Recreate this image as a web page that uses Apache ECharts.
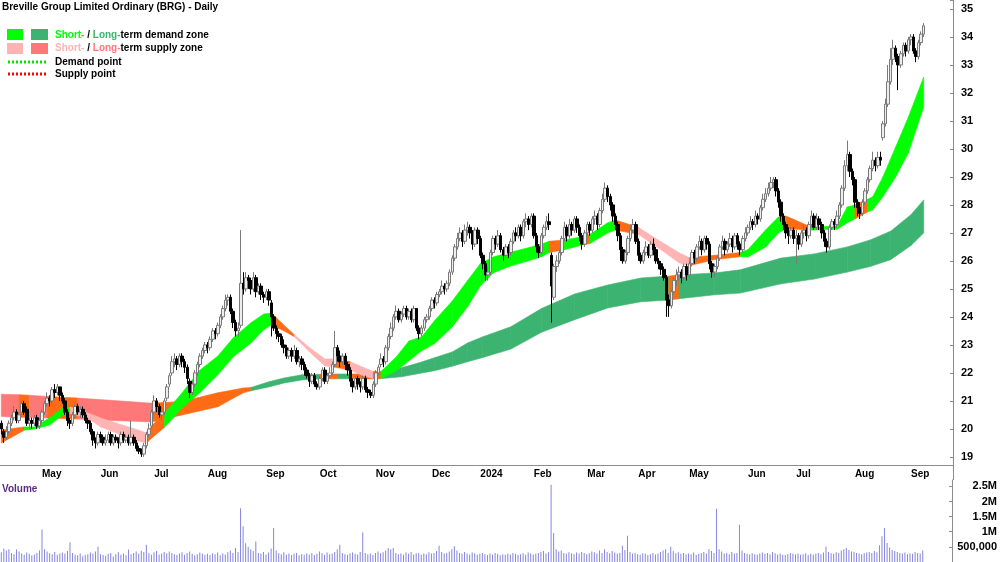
<!DOCTYPE html>
<html>
<head>
<meta charset="utf-8">
<title>Breville Group Limited Ordinary (BRG) - Daily</title>
<script src="https://cdn.jsdelivr.net/npm/echarts@6/dist/echarts.min.js"></script>
<style>
  html, body { margin: 0; padding: 0; background: #ffffff; }
  #chart { width: 1000px; height: 562px; }
</style>
</head>
<body>
<div id="chart"></div>
<script>
// trading calendar (ASX): weekdays from firstDay, minus exchange holidays
const firstDay = "2023-04-04";
const dayCount = 374;
const holidays = [
  "2023-04-07", "2023-04-10", "2023-04-25", "2023-06-12", "2023-12-25", "2023-12-26",
  "2024-01-01", "2024-01-26", "2024-03-29", "2024-04-01", "2024-04-25", "2024-06-10",
];
const monthNames = ["Jan", "Feb", "Mar", "Apr", "May", "Jun", "Jul", "Aug", "Sep", "Oct", "Nov", "Dec"];

// daily bars: [open, close, low, high]
const prices = [
  [20.2,20.0,19.8,20.3],[19.9,19.7,19.5,20.0],[19.7,19.9,19.6,20.1],[19.9,20.2,19.8,20.3],
  [20.2,20.4,20.1,20.5],[20.4,20.6,20.3,20.8],[20.6,20.3,20.2,20.7],[20.3,20.5,20.2,20.6],
  [20.6,20.9,20.5,21.0],[20.9,20.6,20.5,21.0],[20.7,20.2,20.1,20.8],[20.2,20.3,20.0,20.4],
  [20.3,20.2,20.0,20.4],[20.2,20.4,20.1,20.5],[20.4,20.1,20.0,20.5],[20.1,20.3,20.0,20.4],
  [20.3,20.6,20.2,20.7],[20.6,20.9,20.5,21.0],[20.9,21.1,20.8,21.3],[21.1,21.0,20.8,21.2],
  [21.0,21.4,20.9,21.5],[21.4,21.3,21.1,21.6],[21.3,21.5,21.2,21.6],[21.5,21.2,21.0,21.5],
  [21.2,21.0,20.9,21.3],[21.0,20.6,20.5,21.1],[20.6,20.3,20.1,20.7],
  [20.3,20.2,20.0,20.4],[20.2,20.5,20.1,20.6],[20.5,20.8,20.4,20.9],[20.8,20.6,20.5,20.9],
  [20.6,20.7,20.4,20.8],[20.7,20.5,20.4,20.8],[20.5,20.3,20.2,20.6],[20.3,20.2,20.0,20.4],
  [20.2,19.9,19.8,20.3],[19.9,19.6,19.4,20.0],[19.6,19.5,19.3,19.7],[19.5,19.8,19.4,19.9],
  [19.8,19.7,19.5,19.9],[19.7,19.5,19.4,19.8],[19.5,19.6,19.4,19.8],[19.6,19.8,19.5,19.9],
  [19.8,19.5,19.4,19.9],[19.5,19.7,19.4,19.8],[19.7,19.6,19.5,19.8],[19.6,19.5,19.3,19.7],
  [19.5,19.8,19.4,19.9],[19.8,19.6,19.5,19.9],[19.6,19.7,19.5,19.8],[19.7,19.5,19.4,19.8],
  [19.5,19.7,19.4,20.3],[19.7,19.5,19.4,19.8],[19.5,19.3,19.2,19.6],[19.3,19.2,19.1,19.4],
  [19.2,19.1,19.0,19.3],[19.1,19.4,19.0,19.5],[19.4,19.8,19.3,19.9],[19.8,20.0,19.7,20.2],
  [20.1,20.6,20.0,20.7],[20.6,21.0,20.5,21.2],[21.0,20.8,20.6,21.1],[20.8,20.5,20.4,20.9],
  [20.5,20.6,20.3,20.8],[20.6,21.0,20.5,21.1],[21.1,21.5,21.0,21.6],[21.6,21.9,21.5,22.0],
  [22.0,22.4,21.9,22.6],[22.4,22.5,22.2,22.7],[22.5,22.3,22.1,22.6],[22.3,22.6,22.2,22.7],
  [22.6,22.4,22.2,22.7],[22.4,22.2,22.0,22.5],[22.2,21.8,21.6,22.3],
  [21.7,21.3,21.1,21.8],[21.3,21.6,21.2,21.7],[21.6,22.0,21.5,22.1],[22.0,22.3,21.9,22.4],
  [22.3,22.6,22.2,22.7],[22.6,22.8,22.5,22.9],[22.8,23.0,22.7,23.1],[23.0,22.9,22.7,23.1],
  [22.9,23.2,22.8,23.3],[23.2,23.5,23.1,23.6],[23.5,23.4,23.2,23.6],[23.4,23.7,23.3,23.8],
  [23.7,24.0,23.6,24.1],[24.0,24.3,23.9,24.4],[24.3,24.6,24.2,24.8],[24.6,24.7,24.4,24.8],
  [24.7,24.2,24.1,24.8],[24.2,23.8,23.6,24.3],[23.8,23.5,23.3,23.9],[23.5,23.6,23.3,23.8],
  [23.7,25.2,23.6,27.1],[25.2,25.0,24.8,25.6],[25.0,25.4,24.9,25.6],[25.4,25.3,25.0,25.5],
  [25.3,25.0,24.8,25.4],[25.0,25.4,24.9,25.6],[25.4,24.9,24.7,25.5],[24.9,25.1,24.8,25.2],
  [25.1,24.8,24.6,25.2],[24.8,24.7,24.5,24.9],[24.7,24.9,24.6,25.0],[24.9,24.6,24.4,25.0],
  [24.5,24.0,23.3,24.6],[24.0,23.6,23.5,24.1],[23.6,23.4,23.2,23.7],[23.4,23.3,23.1,23.5],
  [23.3,23.0,22.9,23.4],[23.0,22.9,22.7,23.2],[22.9,22.6,22.5,23.0],[22.6,22.8,22.5,22.9],
  [22.8,22.6,22.4,22.9],[22.6,22.8,22.5,23.0],[22.8,22.4,22.3,22.9],[22.4,22.5,22.2,22.6],
  [22.5,22.3,22.1,22.6],[22.3,22.1,21.9,22.4],[22.1,21.9,21.8,22.2],
  [21.9,21.7,21.5,22.0],[21.7,21.9,21.6,22.0],[21.9,21.6,21.5,22.0],[21.6,21.5,21.4,21.7],
  [21.5,21.8,21.4,21.9],[21.8,22.1,21.7,22.2],[22.1,21.7,21.6,22.2],[21.7,21.9,21.6,22.0],
  [21.9,22.0,21.8,22.2],[22.0,22.3,21.9,22.4],[22.3,22.9,22.2,23.5],[22.9,22.6,22.4,23.0],
  [22.6,22.4,22.2,22.8],[22.4,22.6,22.3,22.7],[22.6,22.3,22.1,22.7],[22.3,22.1,21.9,22.4],
  [22.1,21.7,21.5,22.2],[21.7,21.5,21.3,21.8],[21.5,21.8,21.4,21.9],[21.8,21.6,21.4,21.9],
  [21.6,21.5,21.3,21.7],[21.5,21.8,21.4,21.9],[21.8,21.4,21.3,21.9],[21.4,21.3,21.1,21.5],
  [21.3,21.2,21.1,21.4],[21.2,21.6,21.1,21.7],[21.6,22.0,21.5,22.1],[22.0,22.2,21.9,22.3],
  [22.3,22.5,22.2,22.7],[22.5,22.4,22.2,22.6],[22.4,22.9,22.3,23.0],[22.9,23.3,22.8,23.4],
  [23.3,23.6,23.2,23.8],[23.6,24.0,23.5,24.1],[24.0,24.2,23.9,24.4],[24.2,23.9,23.8,24.3],
  [23.9,24.1,23.8,24.2],[24.1,24.3,24.0,24.4],[24.3,24.0,23.9,24.4],[24.0,24.2,23.9,24.3],
  [24.2,23.9,23.8,24.3],[23.9,24.3,23.8,24.4],[24.3,23.6,23.5,24.3],[23.6,23.4,23.2,23.7],
  [23.4,23.6,23.3,23.7],[23.6,23.9,23.5,24.0],[23.9,24.0,23.8,24.1],
  [24.0,24.3,23.9,24.4],[24.3,24.6,24.2,24.7],[24.6,24.5,24.3,24.7],[24.5,24.8,24.4,24.9],
  [24.8,24.9,24.7,25.0],[24.9,25.1,24.8,25.3],[25.1,25.0,24.8,25.2],[25.0,25.2,24.9,25.3],
  [25.2,25.6,25.1,25.7],[25.6,26.1,25.5,26.2],[26.1,26.5,26.0,26.6],[26.5,26.8,26.4,27.0],
  [26.8,27.0,26.7,27.2],[27.0,26.7,26.5,27.1],[26.7,27.1,26.6,27.3],[27.1,27.2,26.9,27.4],
  [27.2,27.0,26.8,27.3],[27.0,26.6,26.4,27.1],[26.6,27.1,26.5,27.2],[27.1,26.8,26.6,27.2],
  [26.8,26.2,26.1,26.9],[26.2,25.9,25.7,26.3],[25.9,25.5,25.3,26.0],[25.5,25.6,25.3,25.8],
  [25.6,26.3,25.5,26.4],[26.3,26.8,26.2,26.9],[26.8,26.6,26.4,26.9],[26.6,26.9,26.5,27.1],
  [26.9,26.4,26.3,27.0],[26.4,26.2,26.0,26.5],[26.2,26.5,26.1,26.6],[26.5,26.3,26.1,26.6],
  [26.3,26.7,26.2,26.8],[26.7,27.0,26.6,27.1],[27.0,26.9,26.7,27.2],[26.9,27.2,26.8,27.3],
  [27.2,26.9,26.7,27.3],[26.9,27.4,26.8,27.5],[27.4,27.5,27.2,27.7],[27.5,27.3,27.1,27.6],
  [27.3,27.6,27.2,27.7],[27.6,26.9,26.8,27.7],[26.9,26.5,26.3,27.0],[26.5,26.3,26.1,26.6],
  [26.3,26.9,26.2,27.0],[26.9,27.2,26.8,27.3],[27.2,27.4,27.1,27.6],
  [27.4,27.3,27.1,27.7],[26.2,25.1,23.8,26.3],[24.7,25.8,24.6,25.9],[25.8,26.0,25.6,26.2],
  [26.0,26.3,25.9,26.4],[26.3,26.8,26.2,26.9],[26.8,27.2,26.7,27.4],[27.2,26.9,26.7,27.3],
  [26.9,27.3,26.8,27.5],[27.3,27.1,26.9,27.4],[27.1,27.5,27.0,27.6],[27.5,27.2,27.0,27.6],
  [27.2,26.9,26.7,27.3],[26.9,26.6,26.4,27.0],[26.6,27.0,26.5,27.1],[27.0,27.3,26.9,27.4],
  [27.3,27.1,26.9,27.4],[27.1,27.5,27.0,27.6],[27.5,27.6,27.3,27.8],[27.6,27.3,27.1,27.7],
  [27.3,27.8,27.2,27.9],[27.8,28.2,27.7,28.4],[28.2,28.6,28.1,28.8],[28.6,28.3,28.1,28.7],
  [28.3,28.0,27.8,28.4],[28.0,27.6,27.4,28.1],[27.6,27.3,27.1,27.7],[27.3,26.9,26.7,27.4],
  [26.9,26.4,26.0,27.0],[26.4,26.0,25.9,26.5],[26.0,26.3,25.9,26.4],[26.3,26.8,26.2,26.9],
  [26.8,27.1,26.7,27.3],[27.1,27.3,27.0,27.5],[27.3,26.7,26.6,27.4],[26.7,26.2,26.0,26.8],
  [26.2,26.0,25.9,26.3],[26.0,26.3,25.9,26.4],[26.3,26.5,26.2,26.7],[26.5,26.2,26.1,26.6],
  [26.2,26.6,26.1,26.7],[26.6,26.4,26.2,26.8],[26.4,26.0,25.9,26.5],[26.0,25.9,25.7,26.1],
  [25.9,25.7,25.5,26.0],[25.7,25.4,25.3,25.8],[25.4,24.6,24.0,25.5],
  [24.6,24.4,24.0,24.8],[24.4,24.9,24.3,25.0],[24.9,25.3,24.8,25.4],[25.3,25.5,25.1,25.7],
  [25.5,25.6,25.3,25.8],[25.6,25.4,25.2,25.7],[25.4,25.8,25.3,25.9],[25.8,25.5,25.3,25.9],
  [25.5,25.9,25.4,26.0],[25.9,26.3,25.8,26.4],[26.3,26.1,25.9,26.4],[26.1,26.5,26.0,26.6],
  [26.5,26.7,26.4,26.9],[26.7,26.4,26.2,26.8],[26.4,26.8,26.3,26.9],[26.8,26.6,26.4,26.9],
  [26.6,25.9,25.7,26.7],[25.9,25.6,25.4,26.0],[25.6,25.8,25.4,25.9],[25.8,26.1,25.7,26.2],
  [26.1,26.5,26.0,26.6],[26.5,26.7,26.4,26.9],[26.7,26.4,26.2,26.8],[26.4,26.6,26.3,26.7],
  [26.6,26.8,26.5,27.0],[26.8,26.5,26.3,26.9],[26.5,26.9,26.4,27.0],[26.9,26.6,26.4,27.0],
  [26.6,26.4,26.2,26.7],[26.4,26.8,26.3,26.9],[26.8,27.0,26.7,27.2],[27.0,27.2,26.9,27.3],
  [27.2,27.4,27.1,27.6],[27.4,27.3,27.1,27.5],[27.3,27.6,27.2,27.8],[27.6,27.5,27.3,27.7],
  [27.5,27.9,27.4,28.0],[27.9,28.2,27.8,28.4],[28.2,28.4,28.1,28.6],[28.4,28.6,28.3,28.8],
  [28.6,28.8,28.5,29.0],[28.8,28.9,28.6,29.0],[28.9,28.5,28.3,29.0],[28.5,28.1,27.9,28.6],
  [28.1,27.6,27.4,28.2],[27.6,27.3,27.1,27.7],[27.3,27.0,26.8,27.4],
  [27.0,26.9,26.6,27.2],[26.9,27.1,26.8,27.2],[27.1,26.8,26.6,27.2],[26.8,26.9,25.9,27.1],
  [26.9,26.6,26.4,27.0],[26.6,27.0,26.5,27.1],[27.0,27.1,26.8,27.3],[27.1,26.9,26.7,27.2],
  [26.9,27.3,26.8,27.4],[27.3,27.6,27.2,27.8],[27.6,27.2,27.1,27.7],[27.2,27.5,27.1,27.7],
  [27.5,27.3,27.1,27.6],[27.3,27.0,26.8,27.4],[27.0,26.7,26.5,27.1],[26.7,26.5,26.3,26.8],
  [26.5,27.2,26.4,27.3],[27.2,27.4,27.1,27.5],[27.4,27.3,27.1,27.5],[27.3,27.6,27.2,27.8],
  [27.6,28.0,27.5,28.1],[28.0,28.6,27.9,28.7],[28.6,29.4,28.5,29.6],[29.4,29.8,29.2,30.3],
  [29.8,29.2,29.0,29.9],[29.2,28.9,28.7,29.3],[28.9,28.1,27.9,29.0],[28.1,27.9,27.6,28.2],
  [27.9,27.7,27.5,28.1],[27.7,28.1,27.6,28.2],[28.1,28.5,28.0,28.6],[28.5,28.9,28.4,29.0],
  [28.9,29.3,28.8,29.4],[29.3,29.6,29.2,29.9],[29.6,29.4,29.2,29.7],[29.4,29.7,29.3,29.9],
  [29.7,29.6,29.4,29.9],[30.4,30.9,30.3,31.0],[30.9,31.6,30.8,31.8],[31.6,32.4,31.5,33.0],
  [32.4,33.2,32.3,33.6],[33.2,33.6,33.0,33.9],[33.6,33.3,33.1,33.7],[33.3,33.0,32.1,33.4],
  [33.0,33.4,32.9,33.5],[33.4,33.7,33.3,33.8],[33.7,33.5,33.3,33.8],[33.5,33.9,33.4,34.0],
  [33.9,34.0,33.7,34.1],[34.0,33.5,33.4,34.1],[33.5,33.3,33.1,33.6],[33.3,33.8,33.2,33.9],
  [33.8,34.1,33.7,34.2],[34.1,34.4,34.0,34.5],
];

// daily volume, thousands of shares
const volumeK = [
  320, 450, 380, 420, 300, 260, 410, 350, 280, 240,
  310, 270, 220, 250, 300, 380, 1070, 420, 350, 290,
  260, 330, 240, 280, 310, 270, 360, 650, 300, 250,
  220, 280, 190, 240, 260, 310, 280, 350, 500, 260,
  230, 210, 270, 300, 180, 260, 320, 240, 280, 220,
  410, 260, 300, 350, 270, 380, 330, 570, 290, 240,
  310, 360, 250, 280, 330, 290, 350, 300, 260, 230,
  280, 320, 240, 300, 350, 270, 220, 260, 310, 280,
  240, 270, 230, 290, 260, 310, 220, 280, 250, 320,
  380, 300, 460, 330, 1780, 1180, 620, 500, 420, 360,
  680, 300, 280, 330, 250, 310, 450, 1120, 380, 290,
  260, 320, 240, 280, 230, 270, 300, 220, 260, 240,
  280, 250, 300, 230, 270, 350, 290, 240, 310, 260,
  280, 330, 420, 570, 300, 260, 240, 290, 310, 270,
  250, 330, 980, 300, 260, 280, 230, 300, 350, 290,
  320, 380, 460, 420, 460, 300, 260, 280, 240, 310,
  270, 330, 250, 290, 300, 240, 280, 260, 320, 280,
  300, 360, 540, 330, 280, 300, 350, 420, 520, 380,
  300, 270, 330, 280, 250, 310, 290, 240, 270, 300,
  260, 230, 280, 250, 300, 270, 220, 260, 240, 280,
  250, 300, 270, 230, 260, 290, 240, 310, 280, 250,
  270, 300, 330, 360, 280, 320, 2550, 960, 420, 350,
  380, 300, 270, 320, 290, 260, 310, 280, 330, 300,
  260, 290, 350, 320, 280, 380, 300, 420, 330, 290,
  360, 310, 280, 300, 540, 400, 870, 330, 280, 300,
  260, 240, 290, 270, 230, 260, 300, 250, 280, 330,
  380, 420, 300, 500, 360, 290, 320, 270, 300, 250,
  280, 260, 310, 240, 270, 300, 330, 280, 420, 360,
  300, 1760, 420, 350, 280, 300, 260, 330, 280, 300,
  1230, 380, 300, 270, 250, 290, 260, 240, 280, 310,
  270, 300, 260, 330, 290, 250, 280, 240, 230, 260,
  300, 270, 250, 280, 240, 260, 290, 230, 270, 250,
  280, 300, 260, 310, 500, 330, 290, 270, 320, 300,
  380, 420, 460, 400, 350, 330, 300, 280, 260, 290,
  310, 330, 300, 360, 320, 550, 850, 1120, 630, 480,
  400, 360, 330, 300, 280, 310, 260, 290, 270, 330,
  300, 280, 380,
];

// long-term zone: sample day, upper edge, lower edge, state of the following stretch
// states: d = demand, s = supply, n = neutral (orange)
const ltDay  = [0, 7, 11, 18, 30, 43, 59, 71, 85, 95, 98, 105, 111, 118, 125, 132, 137, 147, 157, 164,
                170, 177, 183, 189, 200, 212, 225, 238, 251, 262, 266, 280, 290, 306, 319, 332, 341, 349, 357, 362];
const ltHigh = [21.24, 21.22, 21.2, 21.16, 21.1, 21.02, 20.92, 20.98, 21.29, 21.46, 21.48, 21.68, 21.82, 21.93, 21.95, 21.96, 21.96, 21.97, 22.18, 22.36,
                22.54, 22.75, 23.07, 23.29, 23.65, 24.3, 24.82, 25.14, 25.39, 25.46, 25.5, 25.57, 25.68, 26.1, 26.25, 26.5, 26.75, 27.06, 27.65, 28.18];
const ltLow  = [20.44, 20.42, 20.41, 20.39, 20.35, 20.3, 20.25, 20.5, 20.79, 21.29, 21.36, 21.5, 21.64, 21.75, 21.78, 21.79, 21.79, 21.78, 21.86, 21.98,
                22.08, 22.24, 22.4, 22.55, 22.85, 23.45, 23.9, 24.32, 24.54, 24.6, 24.65, 24.79, 24.85, 25.18, 25.35, 25.6, 25.8, 26.04, 26.55, 27.0];
const ltState = ["s", "n", "s", "n", "s", "s", "n", "n", "n", "n", "d", "d", "d", "d", "n", "d", "n", "d", "d", "d",
                 "d", "d", "d", "d", "d", "d", "d", "d", "d", "n", "d", "d", "d", "d", "d", "d", "d", "d", "d", "d"];

// short-term zone, same layout
const stDay  = [0, 9, 13, 19, 24, 27, 34, 39, 45, 51, 57, 60, 64, 71, 78, 85, 91, 98, 103, 106,
                111, 115, 121, 127, 131, 137, 142, 146, 149, 155, 160, 165, 170, 177, 183, 188, 193, 199, 206, 212,
                215, 221, 228, 231, 238, 241, 250, 259, 266, 270, 280, 290, 293, 300, 305, 308, 318, 328, 332, 335,
                340, 342, 346, 351, 356, 362];
const stHigh = [19.96, 20.07, 20.07, 20.4, 20.75, 20.78, 20.57, 20.39, 20.21, 20.04, 19.86, 20.2, 20.55, 21.29, 22.1, 22.6, 23.25, 23.79, 24.1, 24.14,
                23.7, 23.36, 22.9, 22.5, 22.5, 22.4, 22.2, 22.05, 22.05, 22.57, 23.14, 23.29, 23.86, 24.57, 25.3, 25.9, 26.14, 26.29, 26.45, 26.6,
                26.7, 26.75, 26.86, 26.95, 27.36, 27.46, 27.2, 26.68, 26.29, 26.12, 26.2, 26.3, 26.4, 27.11, 27.57, 27.6, 27.2, 27.25, 27.93, 28.0,
                28.2, 28.29, 29.0, 30.07, 31.14, 32.57];
const stLow  = [19.5, 19.95, 20.0, 20.14, 20.5, 20.55, 20.39, 20.07, 19.86, 19.61, 19.5, 19.75, 20.05, 20.75, 21.3, 21.93, 22.57, 23.07, 23.54, 23.71,
                23.5, 23.29, 22.75, 22.25, 22.2, 22.1, 21.9, 21.8, 21.8, 22.07, 22.43, 22.79, 23.04, 23.64, 24.36, 25.1, 25.57, 25.79, 25.98, 26.15,
                26.3, 26.4, 26.57, 26.62, 27.0, 27.1, 26.95, 26.39, 25.93, 25.83, 26.05, 26.15, 26.14, 26.5, 27.0, 27.15, 27.1, 27.13, 27.36, 27.5,
                27.75, 27.82, 28.29, 29.0, 29.86, 31.5];
const stState = ["n", "D", "D", "D", "D", "S", "S", "S", "S", "S", "n", "n", "D", "D", "D", "D", "D", "D", "D", "n",
                 "n", "S", "S", "S", "n", "S", "S", "n", "D", "D", "D", "D", "D", "D", "D", "D", "D", "D", "D", "D",
                 "n", "D", "n", "D", "D", "n", "S", "S", "S", "n", "n", "D", "D", "D", "D", "n", "D", "D", "D", "n",
                 "D", "D", "D", "D", "D", "D"];

const zoneColors = {
  D: "#00ff00", // short-term demand
  d: "#3cb371", // long-term demand
  S: "#ffb4b4", // short-term supply
  s: "#ff7878", // long-term supply
  n: "#ff6a14",
};

const fontFamily = '"Liberation Sans", Arial, sans-serif';

const buildDates = () => {
  const out = [];
  const d = new Date(firstDay + "T00:00:00Z");
  while (out.length < dayCount) {
    const iso = d.toISOString().slice(0, 10);
    const wd = d.getUTCDay();
    if (wd !== 0 && wd !== 6 && holidays.indexOf(iso) < 0) out.push(iso);
    d.setUTCDate(d.getUTCDate() + 1);
  }
  return out;
};
const dates = buildDates();
const isMonthStart = (i) => i > 0 && dates[i].slice(5, 7) !== dates[i - 1].slice(5, 7);

const bandSegments = (day, hi, lo) => {
  const segs = [];
  for (let k = 0; k < day.length - 1; k++) {
    segs.push([day[k], hi[k], lo[k], day[k + 1], hi[k + 1], lo[k + 1]]);
  }
  return segs;
};

const bandRenderer = (states) => (params, api) => {
  const a = api.coord([api.value(0), api.value(1)]);
  const b = api.coord([api.value(3), api.value(4)]);
  const c = api.coord([api.value(3), api.value(5)]);
  const d = api.coord([api.value(0), api.value(2)]);
  const col = zoneColors[states[params.dataIndex]];
  return {
    type: "polygon",
    shape: { points: [a, b, c, d] },
    style: { fill: col, stroke: col, lineWidth: 0.6 },
  };
};

const chart = echarts.init(document.getElementById("chart"));

const legendText = (y, shortCol, longCol, tail) => ({
  type: "text",
  left: 55,
  top: y,
  style: {
    text: "{a|Short-}{k| / }{b|Long-}{k|" + tail + "}",
    rich: {
      a: { fill: shortCol, font: "bold 10px " + fontFamily },
      b: { fill: longCol, font: "bold 10px " + fontFamily },
      k: { fill: "#000", font: "bold 10px " + fontFamily },
    },
  },
});

const option = {
  animation: false,
  backgroundColor: "#ffffff",
  grid: [
    { left: 0, right: 47, top: 0, height: 465 },
    { left: 0, right: 47, top: 480, height: 84 },
  ],
  xAxis: [
    {
      type: "category",
      gridIndex: 0,
      data: dates,
      boundaryGap: true,
      axisLine: { lineStyle: { color: "#8c8c8c" } },
      axisTick: { interval: (i) => isMonthStart(i), length: 5, lineStyle: { color: "#8c8c8c" } },
      axisLabel: {
        interval: (i) => isMonthStart(i),
        formatter: (v) => {
          const m = +v.slice(5, 7);
          return m === 1 ? v.slice(0, 4) : monthNames[m - 1];
        },
        align: "left",
        margin: 4,
        color: "#000",
        fontWeight: "bold",
        fontSize: 10,
        fontFamily: fontFamily,
      },
      splitLine: { show: false },
    },
    {
      type: "category",
      gridIndex: 1,
      data: dates,
      position: "top",
      axisLine: { lineStyle: { color: "#8c8c8c" } },
      axisTick: { show: false },
      axisLabel: { show: false },
      splitLine: { show: false },
    },
  ],
  yAxis: [
    {
      type: "value",
      gridIndex: 0,
      position: "right",
      min: 18.71,
      max: 35.32,
      splitNumber: 16,
      minInterval: 1,
      maxInterval: 1,
      axisLine: { show: true, lineStyle: { color: "#8c8c8c" } },
      axisTick: { show: true, inside: true, length: 3, lineStyle: { color: "#8c8c8c" } },
      axisLabel: {
        margin: 8,
        formatter: (v) => (Math.abs(v - Math.round(v)) < 1e-6 ? String(Math.round(v)) : ""),
        color: "#000",
        fontWeight: "bold",
        fontSize: 11,
        fontFamily: fontFamily,
      },
      splitLine: { show: false },
    },
    {
      type: "value",
      gridIndex: 1,
      position: "right",
      min: 0,
      max: 2710,
      interval: 500,
      axisLine: { show: true, lineStyle: { color: "#8c8c8c" } },
      axisTick: { show: true, inside: true, length: 3, lineStyle: { color: "#8c8c8c" } },
      axisLabel: {
        align: "right",
        margin: 45,
        formatter: (v) => {
          if (v === 0) return "";
          if (v === 500) return "500,000";
          return v / 1000 + "M";
        },
        color: "#000",
        fontWeight: "bold",
        fontSize: 11,
        fontFamily: fontFamily,
      },
      splitLine: { show: false },
    },
  ],
  graphic: [
    { type: "text", left: 2, top: 2, style: { text: "Breville Group Limited Ordinary (BRG) - Daily", fill: "#000", font: "bold 10px " + fontFamily } },
    { type: "rect", left: 7, top: 29, shape: { width: 16, height: 11 }, style: { fill: zoneColors.D } },
    { type: "rect", left: 31, top: 29, shape: { width: 17, height: 11 }, style: { fill: zoneColors.d } },
    { type: "rect", left: 7, top: 43, shape: { width: 16, height: 11 }, style: { fill: zoneColors.S } },
    { type: "rect", left: 31, top: 43, shape: { width: 17, height: 11 }, style: { fill: zoneColors.s } },
    legendText(30, zoneColors.D, zoneColors.d, "term demand zone"),
    legendText(43, zoneColors.S, zoneColors.s, "term supply zone"),
    { type: "line", shape: { x1: 8, y1: 62, x2: 47, y2: 62 }, style: { stroke: "#00e600", lineWidth: 3, lineDash: [2, 2] } },
    { type: "line", shape: { x1: 8, y1: 74, x2: 47, y2: 74 }, style: { stroke: "#ff0000", lineWidth: 3, lineDash: [2, 2] } },
    { type: "text", left: 55, top: 57, style: { text: "Demand point", fill: "#000", font: "bold 10px " + fontFamily } },
    { type: "text", left: 55, top: 69, style: { text: "Supply point", fill: "#000", font: "bold 10px " + fontFamily } },
    { type: "text", left: 2, top: 484, style: { text: "Volume", fill: "#5b2a86", font: "bold 10px " + fontFamily } },
    // price axis line carried through the date strip
    { type: "line", shape: { x1: 953.5, y1: 465, x2: 953.5, y2: 480 }, style: { stroke: "#8c8c8c", lineWidth: 1 } },
  ],
  series: [
    {
      name: "Long-term zone",
      type: "custom",
      xAxisIndex: 0,
      yAxisIndex: 0,
      silent: true,
      z: 1,
      encode: { x: [0, 3], y: [1, 2, 4, 5] },
      data: bandSegments(ltDay, ltHigh, ltLow),
      renderItem: bandRenderer(ltState),
    },
    {
      name: "Short-term zone",
      type: "custom",
      xAxisIndex: 0,
      yAxisIndex: 0,
      silent: true,
      z: 2,
      encode: { x: [0, 3], y: [1, 2, 4, 5] },
      data: bandSegments(stDay, stHigh, stLow),
      renderItem: bandRenderer(stState),
    },
    {
      name: "BRG",
      type: "candlestick",
      xAxisIndex: 0,
      yAxisIndex: 0,
      z: 3,
      barWidth: 3,
      data: prices,
      itemStyle: {
        color: "#eeeeee",
        color0: "#000000",
        borderColor: "#7a7a7a",
        borderColor0: "#000000",
        borderWidth: 1,
      },
    },
    {
      name: "Volume",
      type: "bar",
      xAxisIndex: 1,
      yAxisIndex: 1,
      barWidth: 1,
      data: volumeK,
      itemStyle: { color: "#8585de" },
    },
  ],
};

chart.setOption(option);
</script>
</body>
</html>
